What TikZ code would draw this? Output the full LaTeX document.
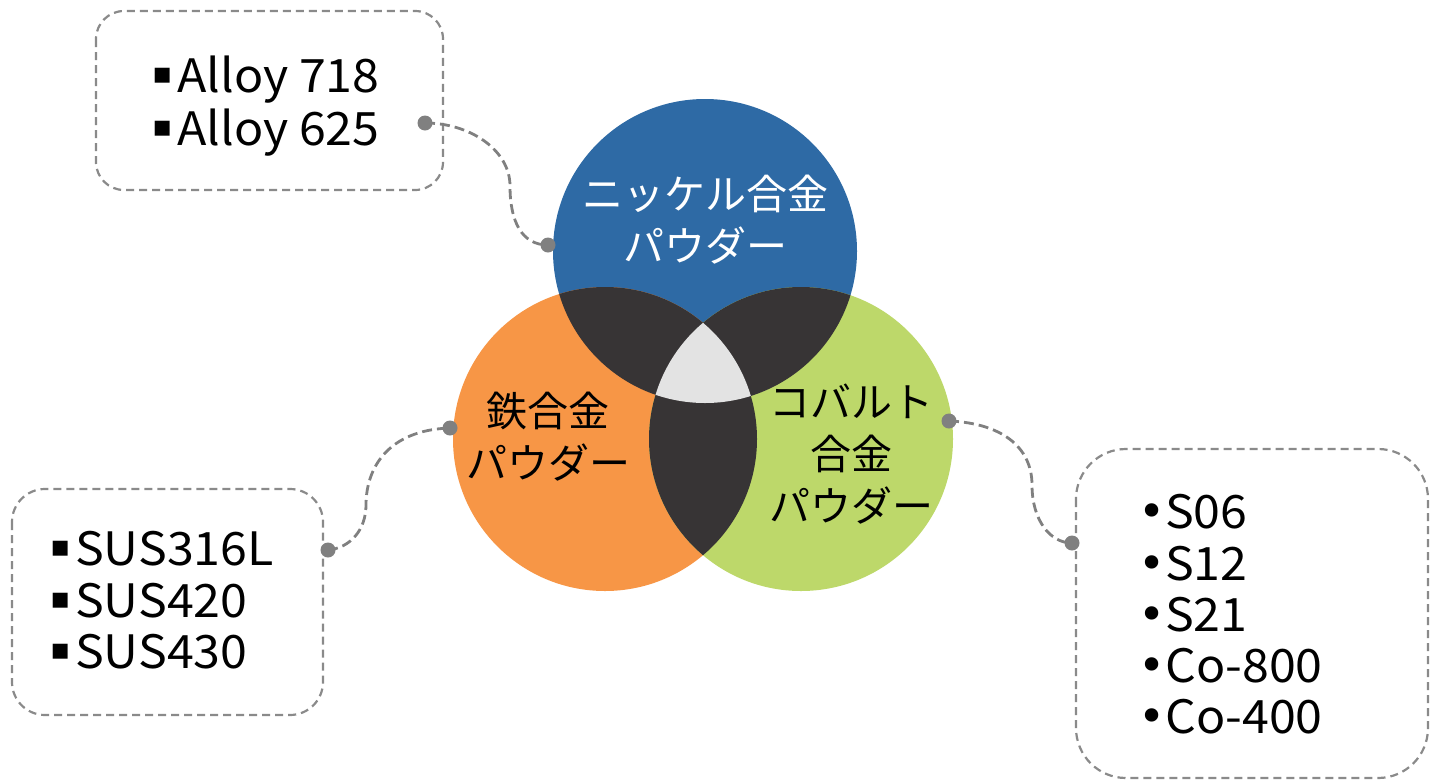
\documentclass[tikz,border=0pt]{standalone}
\usepackage{fontspec}
\setmainfont{Noto Sans CJK JP}
\newfontfamily\listfont{Noto Sans CJK JP}[FakeStretch=1.05]
\newfontfamily\symfont{DejaVu Sans}
\definecolor{niblue}{HTML}{2E6AA5}
\definecolor{feorange}{HTML}{F79646}
\definecolor{cogreen}{HTML}{BDD86A}
\definecolor{lensdark}{HTML}{373435}
\definecolor{centerlight}{HTML}{E3E3E3}
\definecolor{conngray}{HTML}{808080}
\definecolor{boxgray}{HTML}{8A8A8A}
\newcommand{\sqb}{\makebox[25pt][l]{\raisebox{9pt}{\symfont\fontsize{30}{30}\selectfont ▪}}}
\newcommand{\dtb}{\makebox[27pt][l]{\raisebox{1pt}{\symfont\fontsize{46}{46}\selectfont •}}}
\begin{document}
\begin{tikzpicture}[x=1pt,y=-1pt,
  infobox/.style={draw=boxgray, line width=2.2pt, dash pattern=on 8pt off 5pt},
  conn/.style={draw=conngray, line width=2.8pt, dash pattern=on 10pt off 5pt},
  enddot/.style={fill=conngray},
  listtext/.style={anchor=base west, inner sep=0pt, font=\listfont\fontsize{46}{52}\selectfont},
  venntext/.style={align=center, inner sep=0pt, font=\fontsize{41}{52}\selectfont}]
\useasboundingbox (0,0) rectangle (1430,780);

% circles
\fill[niblue] (705,251) circle (152);
\fill[feorange] (605,439) circle (152);
\fill[cogreen] (801,439) circle (152);
\begin{scope}
  \clip (705,251) circle (152);
  \fill[lensdark] (605,439) circle (152);
  \fill[lensdark] (801,439) circle (152);
\end{scope}
\begin{scope}
  \clip (605,439) circle (152);
  \fill[lensdark] (801,439) circle (152);
\end{scope}
\begin{scope}
  \clip (705,251) circle (152);
  \clip (605,439) circle (152);
  \fill[centerlight] (801,439) circle (152);
\end{scope}

% circle labels
\node[venntext, text=white] (ni) at (705,220) {ニッケル合金\\パウダー};
\node[venntext, text=black] (fe) at (548,437) {鉄合金\\パウダー};
\node[venntext, text=black] (co) at (851,454) {コバルト\\合金\\パウダー};

% boxes
\draw[infobox, rounded corners=28pt] (96,11) rectangle (443,190);
\draw[infobox, rounded corners=33pt] (12,489) rectangle (323,715);
\draw[infobox, rounded corners=50pt] (1076,449) rectangle (1428,778);

% list texts
\node[listtext] (a1) at (152,92) {\sqb Alloy 718};
\node[listtext] (a2) at (152,145) {\sqb Alloy 625};
\node[listtext] (s1) at (50,565) {\sqb SUS316L};
\node[listtext] (s2) at (50,617) {\sqb SUS420};
\node[listtext] (s3) at (50,668) {\sqb SUS430};
\node[listtext] (c1) at (1138,528) {\dtb S06};
\node[listtext] (c2) at (1138,580) {\dtb S12};
\node[listtext] (c3) at (1138,631) {\dtb S21};
\node[listtext] (c4) at (1138,682) {\dtb Co-800};
\node[listtext] (c5) at (1138,733) {\dtb Co-400};

% connector end points
\coordinate (d1) at (425,123);
\coordinate (m1) at (510,186);
\coordinate (d2) at (548,245);
\coordinate (d3) at (328,550);
\coordinate (m2) at (366,505);
\coordinate (d4) at (450,428);
\coordinate (d5) at (949,421);
\coordinate (m3) at (1032,485);
\coordinate (d6) at (1072,543);

\draw[conn] (d1) .. controls (470,123) and (510,150) .. (m1) .. controls (510,222) and (522,245) .. (d2);
\draw[conn] (d3) .. controls (350,548) and (366,530) .. (m2) .. controls (366,468) and (388,430) .. (d4);
\draw[conn] (d5) .. controls (1000,423) and (1032,446) .. (m3) .. controls (1032,520) and (1050,543) .. (d6);

\foreach \p in {d1,d2,d3,d4,d5,d6} \fill[enddot] (\p) circle (7.5);
\end{tikzpicture}
\end{document}
